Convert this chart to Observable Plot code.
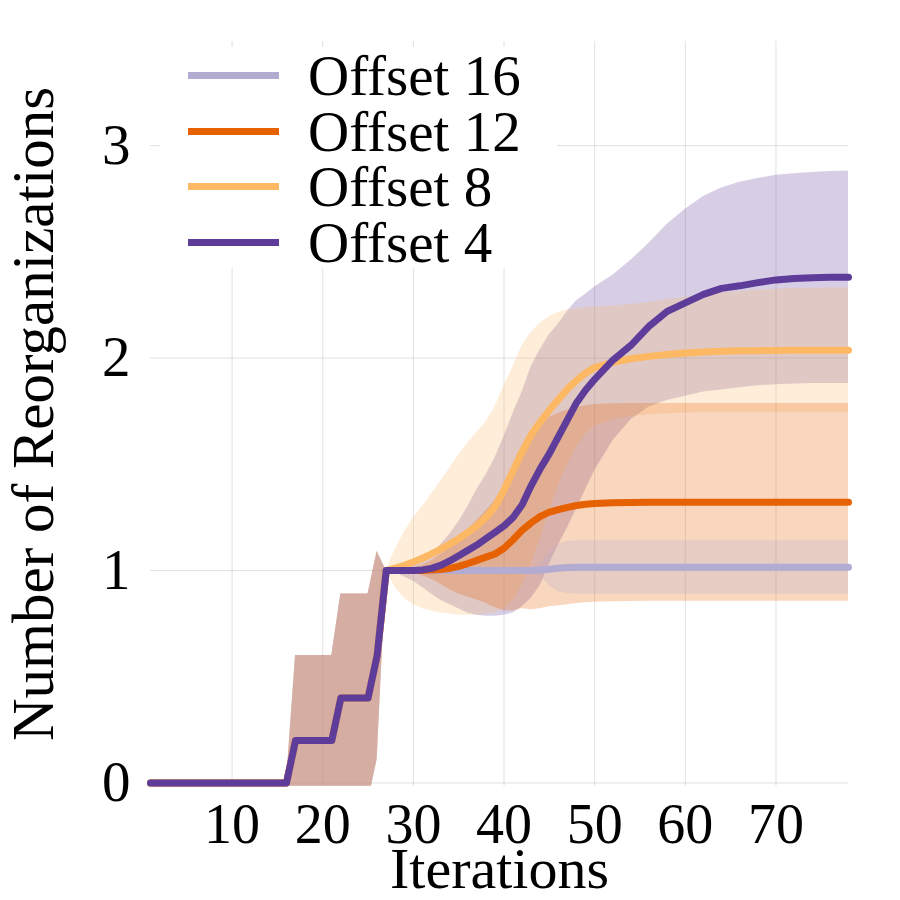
<!DOCTYPE html>
<html>
<head>
<meta charset="utf-8">
<script src="https://cdn.jsdelivr.net/npm/d3@7"></script>
<script src="https://cdn.jsdelivr.net/npm/@observablehq/plot@0.6"></script>
<style>
  html, body { margin: 0; padding: 0; background: #fff; }
  #chart { position: relative; width: 900px; height: 900px; font-family: 'Liberation Serif', 'DejaVu Serif', serif; }
  #chart svg { display: block; }
  .legend { position: absolute; left: 160px; top: 47px; width: 397px; height: 221px; background: #fff; }
  .swatch { position: absolute; left: 28px; width: 91px; height: 7px; }
  .label { position: absolute; left: 148px; height: 57px; line-height: 57px; font-size: 57px; color: #000; white-space: nowrap; }
</style>
</head>
<body>
<div id="chart"></div>
<script>
// Iterations at which the run averages were recorded
const warmupIterations = [1, 16, 17, 21, 22, 25, 26, 27];
const laterIterations = [28, 29, 30, 31, 32, 33, 34, 35, 36, 37, 38, 39, 40, 41, 42, 43, 44, 45, 46, 47, 48, 49, 50,
                         52, 54, 56, 58, 60, 62, 64, 66, 68, 70, 72, 74, 76, 78];

// Warm-up phase: every offset behaves the same until iteration 27
const warmupMean = [0, 0, 0.2, 0.2, 0.4, 0.4, 0.6, 1];
const warmupLow  = [0, 0, -0.2, -0.2, -0.09, -0.09, 0.11, 1];
const warmupHigh = [0, 0, 0.6, 0.6, 0.89, 0.89, 1.09, 1];

// Offset 16
const offset16Mean = [1, 1, 1, 1, 1, 1, 1, 1, 1, 1, 1, 1, 1, 1, 1, 1, 1.002, 1.006, 1.011, 1.014, 1.015, 1.015, 1.015,
                      1.015, 1.015, 1.015, 1.015, 1.015, 1.015, 1.015, 1.015, 1.015, 1.015, 1.015, 1.015, 1.015, 1.015];
const offset16Low  = [1, 1, 1, 1, 1, 1, 1, 1, 1, 1, 1, 1, 1, 1, 1, 1, 0.975, 0.93, 0.9, 0.892, 0.89, 0.89, 0.89,
                      0.89, 0.89, 0.89, 0.89, 0.89, 0.89, 0.89, 0.89, 0.89, 0.89, 0.89, 0.89, 0.89, 0.89];
const offset16High = [1, 1, 1, 1, 1, 1, 1, 1, 1, 1, 1, 1, 1, 1, 1, 1, 1.03, 1.09, 1.125, 1.137, 1.14, 1.14, 1.14,
                      1.14, 1.14, 1.14, 1.14, 1.14, 1.14, 1.14, 1.14, 1.14, 1.14, 1.14, 1.14, 1.14, 1.14];

// Offset 12
const offset12Mean = [1, 1, 1, 1, 1.002, 1.005, 1.01, 1.02, 1.033, 1.048, 1.063, 1.078, 1.105, 1.145, 1.19, 1.225, 1.255, 1.275, 1.287, 1.297, 1.306, 1.312, 1.316,
                      1.319, 1.32, 1.321, 1.321, 1.321, 1.321, 1.321, 1.321, 1.321, 1.321, 1.321, 1.321, 1.321, 1.321];
const offset12Low  = [1, 0.995, 0.988, 0.975, 0.959, 0.935, 0.91, 0.89, 0.876, 0.861, 0.846, 0.826, 0.81, 0.81, 0.82, 0.815, 0.82, 0.83, 0.834, 0.839, 0.845, 0.848, 0.851,
                      0.853, 0.854, 0.855, 0.855, 0.855, 0.855, 0.855, 0.855, 0.855, 0.855, 0.855, 0.855, 0.855, 0.855];
const offset12High = [1, 1.005, 1.012, 1.025, 1.045, 1.075, 1.11, 1.15, 1.19, 1.235, 1.28, 1.33, 1.4, 1.48, 1.56, 1.635, 1.69, 1.72, 1.74, 1.755, 1.767, 1.776, 1.781,
                      1.785, 1.786, 1.786, 1.786, 1.786, 1.786, 1.786, 1.786, 1.786, 1.786, 1.786, 1.786, 1.786, 1.786];

// Offset 8
const offset8Mean = [1.012, 1.025, 1.04, 1.058, 1.078, 1.1, 1.125, 1.15, 1.18, 1.21, 1.25, 1.3, 1.38, 1.47, 1.56, 1.64, 1.7, 1.755, 1.805, 1.855, 1.895, 1.93, 1.955,
                     1.98, 1.997, 2.008, 2.017, 2.024, 2.029, 2.032, 2.034, 2.035, 2.036, 2.037, 2.037, 2.037, 2.037];
const offset8Low  = [0.92, 0.87, 0.84, 0.82, 0.81, 0.8, 0.795, 0.79, 0.79, 0.79, 0.795, 0.8, 0.82, 0.86, 0.93, 1.03, 1.15, 1.28, 1.4, 1.5, 1.58, 1.64, 1.68,
                     1.71, 1.725, 1.733, 1.738, 1.741, 1.743, 1.743, 1.743, 1.743, 1.743, 1.743, 1.743, 1.743, 1.743];
const offset8High = [1.1, 1.18, 1.25, 1.3, 1.36, 1.42, 1.48, 1.545, 1.6, 1.65, 1.7, 1.77, 1.87, 1.96, 2.06, 2.12, 2.165, 2.195, 2.215, 2.228, 2.235, 2.238, 2.24,
                     2.245, 2.252, 2.262, 2.275, 2.286, 2.297, 2.306, 2.313, 2.319, 2.324, 2.327, 2.329, 2.33, 2.33];

// Offset 4
const offset4Mean = [1, 1, 1, 1.003, 1.01, 1.024, 1.045, 1.07, 1.095, 1.12, 1.15, 1.18, 1.21, 1.25, 1.31, 1.4, 1.48, 1.55, 1.63, 1.71, 1.79, 1.85, 1.9,
                     1.99, 2.06, 2.15, 2.22, 2.26, 2.3, 2.328, 2.34, 2.355, 2.368, 2.375, 2.378, 2.38, 2.38];
const offset4Low  = [0.99, 0.97, 0.95, 0.92, 0.89, 0.86, 0.84, 0.82, 0.8, 0.79, 0.785, 0.785, 0.79, 0.8, 0.83, 0.87, 0.93, 1.03, 1.12, 1.2, 1.29, 1.38, 1.47,
                     1.61, 1.71, 1.77, 1.8, 1.82, 1.84, 1.85, 1.86, 1.87, 1.875, 1.878, 1.88, 1.88, 1.88];
const offset4High = [1.01, 1.02, 1.03, 1.05, 1.08, 1.12, 1.17, 1.23, 1.3, 1.38, 1.45, 1.53, 1.63, 1.74, 1.84, 1.96, 2.04, 2.11, 2.16, 2.22, 2.27, 2.3, 2.335,
                     2.39, 2.46, 2.54, 2.63, 2.7, 2.76, 2.8, 2.828, 2.845, 2.86, 2.868, 2.874, 2.878, 2.88];

const xTicks = [10, 20, 30, 40, 50, 60, 70];
const yTicks = [0, 1, 2, 3];

const seriesNames = ["Offset 16", "Offset 12", "Offset 8", "Offset 4"];
const seriesColors = ["#b2abd2", "#e66101", "#fdb863", "#5e3c99"];

const offsets = [
  {mean: offset16Mean, low: offset16Low, high: offset16High},
  {mean: offset12Mean, low: offset12Low, high: offset12High},
  {mean: offset8Mean,  low: offset8Low,  high: offset8High},
  {mean: offset4Mean,  low: offset4Low,  high: offset4High}
].map((s, k) => {
  const iterations = warmupIterations.concat(laterIterations);
  const mean = warmupMean.concat(s.mean);
  const low = warmupLow.concat(s.low);
  const high = warmupHigh.concat(s.high);
  return {
    name: seriesNames[k],
    color: seriesColors[k],
    rows: iterations.map((x, i) => ({x, mean: mean[i], low: low[i], high: high[i]}))
  };
});

const gridStyle = {stroke: "#000", strokeOpacity: 0.12, strokeWidth: 1};

// Bands are layered from Offset 4 up to Offset 16; lines from Offset 16 down to Offset 4
const bandOrder = offsets.slice().reverse();

const chart = Plot.plot({
  width: 900,
  height: 900,
  marginLeft: 150,
  marginRight: 52,
  marginTop: 41,
  marginBottom: 114.3,
  style: {fontFamily: "'Liberation Serif', 'DejaVu Serif', serif", fontSize: "56px", color: "#000", background: "#fff"},
  x: {domain: [1, 78]},
  y: {domain: [-0.015, 3.49]},
  marks: [
    Plot.gridX(xTicks, gridStyle),
    Plot.gridY(yTicks, gridStyle),
    ...bandOrder.map(s => Plot.areaY(s.rows, {x: "x", y1: "low", y2: "high", fill: s.color, fillOpacity: 0.25, clip: true})),
    ...offsets.map(s => Plot.line(s.rows, {x: "x", y: "mean", stroke: s.color, strokeWidth: 7})),
    Plot.axisX(xTicks, {tickSize: 0, tickPadding: 17, label: null, fontSize: 56, tickFormat: d3.format("d")}),
    Plot.axisY(yTicks, {tickSize: 0, tickPadding: 20, label: null, fontSize: 57, tickFormat: d3.format("d")}),
    Plot.text(["Iterations"], {text: d => d, frameAnchor: "bottom", lineAnchor: "bottom", textAnchor: "middle", dy: 102, fontSize: 58}),
    Plot.text(["Number of Reorganizations"], {text: d => d, frameAnchor: "left", textAnchor: "middle", lineAnchor: "middle", dx: -116, rotate: -90, fontSize: 59})
  ]
});

const root = document.getElementById("chart");
root.appendChild(chart);

// Legend box drawn over the upper-left corner of the plot area
const legend = document.createElement("div");
legend.className = "legend";
const centers = [28, 84, 139, 195];
offsets.forEach((s, i) => {
  const sw = document.createElement("div");
  sw.className = "swatch";
  sw.style.top = (centers[i] - 3.5) + "px";
  sw.style.background = s.color;
  legend.appendChild(sw);
  const lab = document.createElement("div");
  lab.className = "label";
  lab.style.top = (centers[i] - 28.5) + "px";
  lab.textContent = s.name;
  legend.appendChild(lab);
});
root.appendChild(legend);
</script>
</body>
</html>
